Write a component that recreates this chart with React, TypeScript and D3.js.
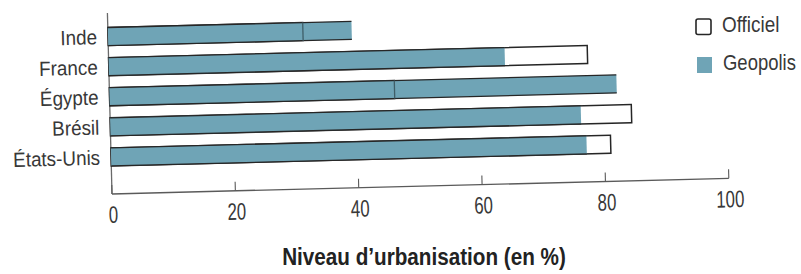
import React from 'react';
import * as d3 from 'd3';

const countries = ['Inde', 'France', 'Égypte', 'Brésil', 'États-Unis'];
const officiel = [31.6, 77.6, 46.2, 84.5, 81];
const geopolis = [39.5, 64.2, 82.2, 76.3, 77.1];
const xTicks = [0, 20, 40, 60, 80, 100];

const width = 801;
const height = 274;
const TEAL = '#6fa4b6';
const INK = '#262626';
const TXT = '#383838';
const FONT = '"Liberation Sans", Arial, sans-serif';

// the scan is tilted a little, so the chart body is rotated round the axis corner
const PIVOT_X = 110;
const PIVOT_Y = 194;
const TILT = -1.45;

const SText: React.FC<{ x: number; y: number; sx: number; size: number; anchor?: string; bold?: boolean; children: React.ReactNode }> =
  ({ x, y, sx, size, anchor = 'start', bold = false, children }) => (
    <text transform={`translate(${x},${y}) scale(${sx},1)`} textAnchor={anchor}
      fontFamily={FONT} fontSize={size} fontWeight={bold ? 'bold' : 'normal'} fill={bold ? '#222' : TXT}>
      {children}
    </text>
  );

const App: React.FC = () => {
  const x = d3.scaleLinear().domain([0, 100]).range([112, 729]);
  const y = d3.scaleBand<string>()
    .domain(countries)
    .range([21.5, 172])
    .paddingInner(0.4)
    .paddingOuter(0.2);
  const bh = y.bandwidth();
  const axisY = PIVOT_Y;

  return (
    <svg width={width} height={height} style={{ position: 'absolute', left: 0, top: 0, background: '#fff' }}>
      <g transform={`rotate(${TILT},${PIVOT_X},${PIVOT_Y})`}>
        {/* left axis */}
        <line x1={x(0)} x2={x(0)} y1={13} y2={axisY} stroke="#6a6a6a" strokeWidth={1.3} />

        {countries.map((c, i) => {
          const yy = y(c)!;
          const xo = x(officiel[i]);
          const xg = x(geopolis[i]);
          return (
            <g key={c}>
              <rect x={x(0)} y={yy} width={xo - x(0)} height={bh} fill="#fff" stroke={INK} strokeWidth={1.5} />
              <rect x={x(0)} y={yy} width={xg - x(0)} height={bh} fill={TEAL} />
              <line x1={x(0)} x2={xg} y1={yy} y2={yy} stroke={INK} strokeWidth={1.3} />
              <line x1={x(0)} x2={xg} y1={yy + bh} y2={yy + bh} stroke={INK} strokeWidth={1.3} />
              {officiel[i] < geopolis[i] && (
                <line x1={xo} x2={xo} y1={yy} y2={yy + bh} stroke="#3f5e68" strokeWidth={1.3} />
              )}
              <SText x={101} y={yy + bh / 2 + 7.5} sx={0.92} size={20.5} anchor="end">{c}</SText>
            </g>
          );
        })}

        {/* bottom axis */}
        <line x1={x(0)} x2={x(100)} y1={axisY} y2={axisY} stroke="#5a5a5a" strokeWidth={1.4} />
        {xTicks.map(t => (
          <g key={t}>
            <line x1={x(t)} x2={x(t)} y1={axisY} y2={axisY - 9} stroke="#5a5a5a" strokeWidth={1.1} />
            <SText x={x(t) + 1} y={223} sx={0.7} size={24} anchor="middle">{t}</SText>
          </g>
        ))}
      </g>

      <SText x={424} y={265} sx={0.88} size={23.5} anchor="middle" bold>Niveau d’urbanisation (en %)</SText>

      {/* legend */}
      <rect x={696} y={19} width={15} height={15.5} rx={2} fill="#fff" stroke={INK} strokeWidth={1.6} />
      <SText x={722} y={31.5} sx={0.86} size={22}>Officiel</SText>
      <rect x={697} y={57} width={15} height={16} fill={TEAL} />
      <SText x={723} y={69.5} sx={0.84} size={22}>Geopolis</SText>
    </svg>
  );
};

export default App;
